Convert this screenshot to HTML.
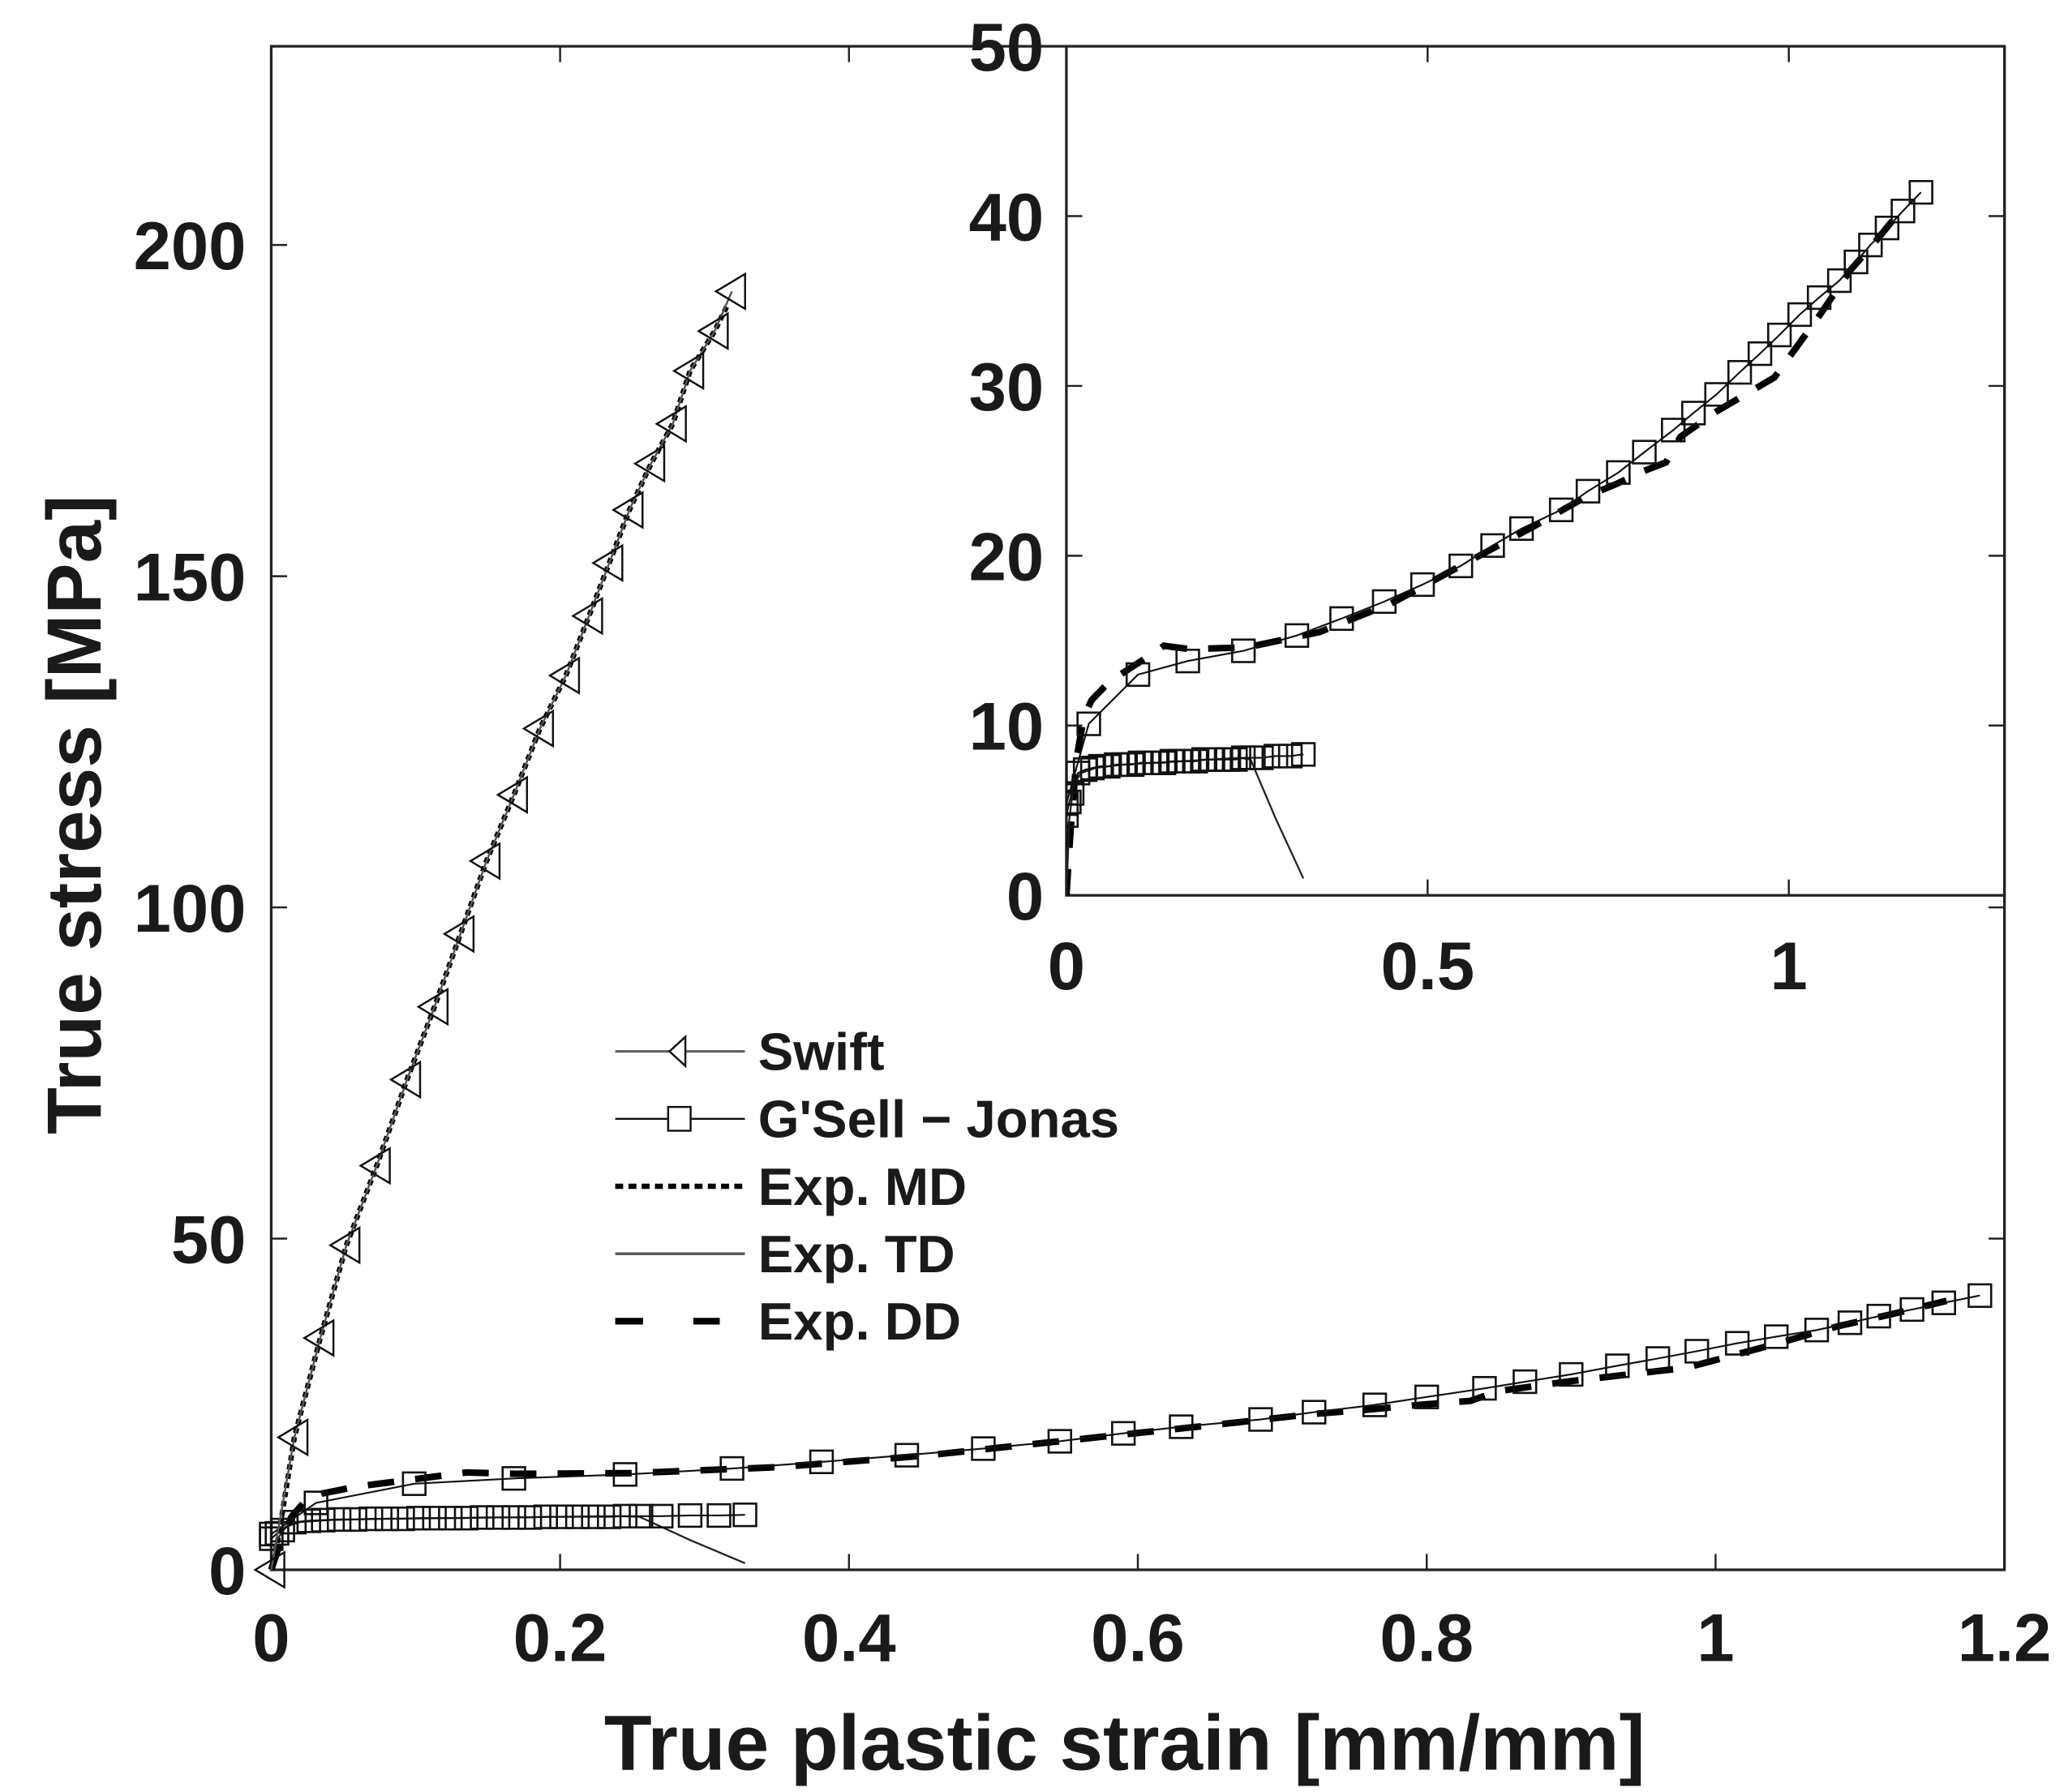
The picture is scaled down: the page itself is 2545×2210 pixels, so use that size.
<!DOCTYPE html>
<html><head><meta charset="utf-8"><style>
html,body{margin:0;padding:0;background:#fff}
svg{display:block}
text{font-family:"Liberation Sans",Arial,sans-serif;font-weight:bold;fill:#1a1a1a}
</style></head><body>
<svg id="chart" width="2545" height="2210" viewBox="0 0 1560 1355" preserveAspectRatio="none" xmlns="http://www.w3.org/2000/svg">
<defs><clipPath id="insetClip"><rect x="806" y="35" width="709" height="642"/></clipPath></defs>
<g id="main"></g>
<g id="inset"></g>
<g id="legend"></g>
</svg>
<script>
// ---- data ----
const swiftX = [0,0.016,0.034,0.052,0.073,0.094,0.113,0.131,0.149,0.168,0.186,0.204,0.22,0.234,0.248,0.263,0.278,0.29,0.307,0.319];
const swiftY = [0,20,35,49,61,74,85,96,107,117,127,135,144,152,160,167,173,181,187,193];
const mdX = [0,0.005,0.016,0.034,0.052,0.073,0.094,0.113,0.131,0.149,0.168,0.186,0.204,0.22,0.234,0.248,0.263,0.278,0.29,0.307,0.316];
const mdY = [0,5,20,35,49,61,74,85,96,107,117,127,135,144,152,160,167,173,181,187,191];
const gjHiX = [0,0.031,0.099,0.168,0.245,0.319,0.381,0.44,0.493,0.546,0.59,0.63,0.685,0.722,0.764,0.8,0.84,0.868,0.9,0.932,0.96,0.987,1.015,1.042,1.07,1.093,1.113,1.136,1.158,1.183];
const gjHiY = [5.4,10.1,13,13.8,14.4,15.3,16.3,17.3,18.3,19.4,20.6,21.6,22.7,23.8,24.9,26.1,27.4,28.4,29.5,30.8,31.9,33,34.2,35.2,36.2,37.3,38.3,39.3,40.3,41.4];
const gjLoX = [0,0.004,0.008,0.016,0.026,0.036,0.047,0.058,0.069,0.08,0.091,0.102,0.113,0.124,0.135,0.146,0.157,0.168,0.179,0.19,0.201,0.212,0.223,0.234,0.245,0.256,0.27,0.29,0.31,0.328];
const gjLoY = [4.7,5.5,6.0,7.2,7.4,7.5,7.6,7.6,7.7,7.7,7.7,7.8,7.8,7.8,7.8,7.9,7.9,7.9,7.9,8.0,8.0,8.0,8.0,8.0,8.1,8.1,8.1,8.2,8.2,8.3];
const tdX = [0,0.004,0.01,0.02,0.04,0.08,0.12,0.16,0.2,0.24,0.255,0.29,0.328];
const tdY = [0,4.5,6.5,7.2,7.5,7.7,7.8,7.9,8.0,8.1,8.0,4.5,1.0];
const ddX = [0,0.006,0.014,0.024,0.035,0.06,0.1,0.135,0.17,0.25,0.35,0.45,0.55,0.65,0.72,0.76,0.8,0.83,0.85,0.9,0.98,1.04,1.085,1.12,1.16];
const ddY = [0,4,8,10.5,11.5,12.6,13.7,14.7,14.5,14.6,15.5,17.2,19.5,21.8,23.5,24.2,25,25.5,27,28.5,30.5,34,36.8,38.5,40.6];
const mainXTicks = [0,0.2,0.4,0.6,0.8,1,1.2];
const mainXLabels = ["0","0.2","0.4","0.6","0.8","1","1.2"];
const mainYTicks = [0,50,100,150,200];
const mainYLabels = ["0","50","100","150","200"];
const insetXTicks = [0,0.5,1];
const insetXLabels = ["0","0.5","1"];
const insetYTicks = [0,10,20,30,40,50];
const insetYLabels = ["0","10","20","30","40","50"];

const NS = "http://www.w3.org/2000/svg";
function mk(tag, attrs, parent){
  const e = document.createElementNS(NS, tag);
  for (const k in attrs) e.setAttribute(k, attrs[k]);
  parent.appendChild(e); return e;
}
function axes(x0,x1,xmin,xmax,y0,y1,ymin,ymax){
  return {
    sx: v => x0 + (v - xmin) / (xmax - xmin) * (x1 - x0),
    sy: v => y0 - (v - ymin) / (ymax - ymin) * (y0 - y1)
  };
}
function pathD(xs, ys, a){
  return xs.map((x,i)=>(i?'L':'M')+a.sx(x).toFixed(1)+' '+a.sy(ys[i]).toFixed(1)).join(' ');
}
function squares(g, xs, ys, a, s, name){
  xs.forEach((x,i)=>{
    const r = mk('rect',{x:a.sx(x)-s/2,y:a.sy(ys[i])-s/2,width:s,height:s,fill:'none',stroke:'#111','stroke-width':1.6},g);
    
    
  });
}
function tris(g, xs, ys, a, s, name){
  xs.forEach((x,i)=>{
    const cx=a.sx(x), cy=a.sy(ys[i]);
    const p = mk('polygon',{points:`${cx-s*0.55},${cy} ${cx+s*0.45},${cy-s*0.6} ${cx+s*0.45},${cy+s*0.6}`,fill:'none',stroke:'#111','stroke-width':1.5},g);
    
    
  });
}
function drawFrame(g, L,R,T,B, a, xt, xl, yt, yl, fs, xlabY, ylabX, name){
  const fr = mk('rect',{x:L,y:T,width:R-L,height:B-T,fill:'#fff',stroke:'#222','stroke-width':2},g);
  
  
  xt.forEach((v,i)=>{
    const X=a.sx(v);
    mk('line',{x1:X,y1:B,x2:X,y2:B-12,stroke:'#222','stroke-width':1.5},g);
    mk('line',{x1:X,y1:T,x2:X,y2:T+12,stroke:'#222','stroke-width':1.5},g);
    const t = mk('text',{x:X,y:xlabY,'text-anchor':'middle','font-size':fs},g);
    t.textContent = xl[i];
    
    
  });
  yt.forEach((v,i)=>{
    const Y=a.sy(v);
    mk('line',{x1:L,y1:Y,x2:L+12,y2:Y,stroke:'#222','stroke-width':1.5},g);
    mk('line',{x1:R,y1:Y,x2:R-12,y2:Y,stroke:'#222','stroke-width':1.5},g);
    const t = mk('text',{x:ylabX,y:Y+fs*0.36,'text-anchor':'end','font-size':fs},g);
    t.textContent = yl[i];
    
    
  });
}
function drawSeries(g, a, sq, withMD){
  if (withMD){
    const md = mk('path',{d:pathD(mdX,mdY,a),fill:'none',stroke:'#000','stroke-width':4,'stroke-dasharray':'4 3'},g);
     
  }
  const dd = mk('path',{d:pathD(ddX,ddY,a),fill:'none',stroke:'#000','stroke-width':5,'stroke-dasharray':'20 16'},g);
   
  const td = mk('path',{d:pathD(tdX,tdY,a),fill:'none',stroke:'#222','stroke-width':1.4},g);
   
  const hi = mk('path',{d:pathD(gjHiX,gjHiY,a),fill:'none',stroke:'#111','stroke-width':1.3},g);
   
  const lo = mk('path',{d:pathD(gjLoX,gjLoY,a),fill:'none',stroke:'#111','stroke-width':1.3},g);
   
  squares(g,gjHiX,gjHiY,a,sq,'gsell-jonas-marker');
  squares(g,gjLoX,gjLoY,a,sq,'gsell-jonas-marker');
}

// main plot
const gm = document.getElementById('main');
const am = axes(205,1515,0,1.2,1187,35,0,230);
drawFrame(gm,205,1515,35,1187,am,mainXTicks,mainXLabels,mainYTicks,mainYLabels,51,1256,186,'main');
drawSeries(gm, am, 17, true);
const sw = mk('path',{d:pathD(swiftX,swiftY,am),fill:'none',stroke:'#555','stroke-width':1.5},gm);
 
tris(gm,swiftX,swiftY,am,22,'swift-marker');
const xt = mk('text',{x:850,y:1338,'text-anchor':'middle','font-size':59},gm);
xt.textContent='True plastic strain [mm/mm]';
 
const yt = mk('text',{x:0,y:0,'text-anchor':'middle','font-size':58,transform:'translate(76,616) rotate(-90)'},gm);
yt.textContent='True stress [MPa]';
 

// inset
const gi = document.getElementById('inset');
const ai = axes(806,1515,0,1.2985,677,35,0,50);
drawFrame(gi,806,1515,35,677,ai,insetXTicks,insetXLabels,insetYTicks,insetYLabels,51,748,789,'inset');
const gic = mk('g',{'clip-path':'url(#insetClip)'},gi);


drawSeries(gic, ai, 17, false);

// legend
const gl = document.getElementById('legend');
const leg = [
  ['Swift','swift'],['G\'Sell \u2212 Jonas','gj'],['Exp. MD','md'],['Exp. TD','td'],['Exp. DD','dd']
];
leg.forEach((e,i)=>{
  const y = 795 + i*51;
  const row = mk('g',{},gl);
  
  
  if (e[1]==='swift'){
    mk('line',{x1:465,y1:y,x2:563,y2:y,stroke:'#666','stroke-width':2},row);
    mk('polygon',{points:`${506},${y} ${518},${y-11} ${518},${y+11}`,fill:'#fff',stroke:'#111','stroke-width':1.5},row);
  } else if (e[1]==='gj'){
    mk('line',{x1:465,y1:y,x2:563,y2:y,stroke:'#111','stroke-width':1.5},row);
    mk('rect',{x:505,y:y-9,width:17,height:18,fill:'#fff',stroke:'#111','stroke-width':1.5},row);
  } else if (e[1]==='md'){
    mk('line',{x1:465,y1:y,x2:563,y2:y,stroke:'#000','stroke-width':4,'stroke-dasharray':'6 4'},row);
  } else if (e[1]==='td'){
    mk('line',{x1:465,y1:y,x2:563,y2:y,stroke:'#555','stroke-width':2},row);
  } else {
    mk('line',{x1:465,y1:y,x2:544,y2:y,stroke:'#000','stroke-width':5,'stroke-dasharray':'21 38'},row);
  }
  const t = mk('text',{x:573,y:y+14,'font-size':40},row);
  t.textContent = e[0];
  
  
});
</script>
</body></html>
